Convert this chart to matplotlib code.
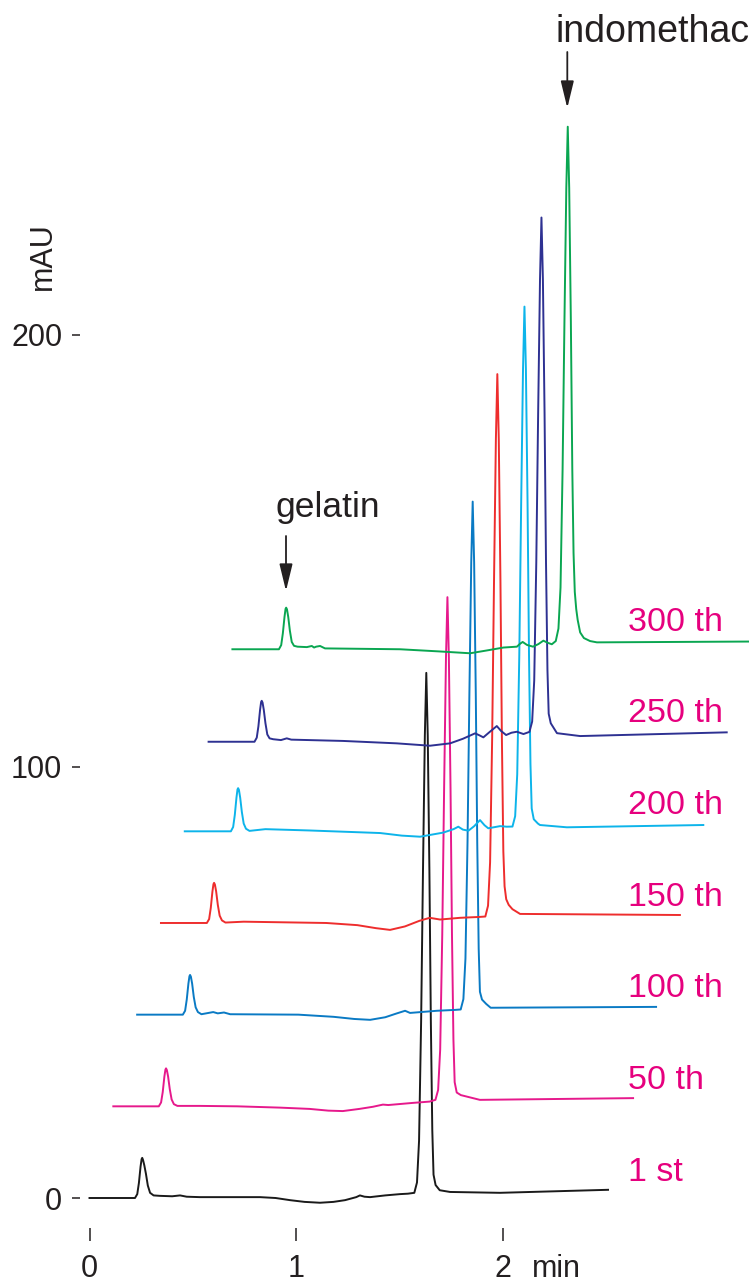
import matplotlib
matplotlib.use("Agg")
import numpy as np
import matplotlib.pyplot as plt

plt.rcParams['font.family'] = ['Liberation Sans', 'DejaVu Sans']

# ---------------- data (time in min, signal in mAU, per run) ----------------
run_labels = ['1 st', '50 th', '100 th', '150 th', '200 th', '250 th', '300 th']
run_colors = ['#1a1a1a', '#E6198C', '#0A7AC4', '#EE2D2D', '#0DB4EA', '#2E3192', '#0AA651']

t_1st = [0.000, 0.220, 0.231, 0.239, 0.247, 0.252, 0.255, 0.259, 0.265, 0.273, 0.282, 0.293,
         0.310, 0.340, 0.400, 0.438, 0.470, 0.534, 0.825, 0.900, 0.970, 1.040, 1.115, 1.180,
         1.236, 1.290, 1.308, 1.330, 1.357, 1.430, 1.502, 1.540,
         1.571, 1.584, 1.594, 1.604, 1.613, 1.622, 1.629, 1.636, 1.644, 1.651, 1.658, 1.664,
         1.674, 1.694, 1.744, 1.985, 2.508]
mau_1st = [0.0, 0.0, 0.9, 3.5, 7.3, 9.0, 9.3, 8.8, 7.6, 5.6, 2.9, 1.2,
           0.6, 0.5, 0.4, 0.6, 0.3, 0.2, 0.2, 0.0, -0.5, -0.9, -1.1, -0.9,
           -0.5, 0.2, 0.6, 0.3, 0.2, 0.6, 0.9, 1.0,
           1.2, 3.6, 13.3, 41.0, 75.9, 107.2, 121.7, 107.2, 75.9, 41.0, 15.7, 5.4,
           3.0, 1.8, 1.4, 1.2, 1.9]

t_50th = [0.000, 0.220, 0.231, 0.239, 0.247, 0.252, 0.255, 0.259, 0.265, 0.273, 0.282, 0.293,
          0.310, 0.419, 0.600, 0.806, 0.950, 1.040, 1.110, 1.190, 1.256, 1.304, 1.330, 1.450,
          1.530,
          1.558, 1.571, 1.581, 1.591, 1.600, 1.609, 1.616, 1.623, 1.631, 1.638, 1.645, 1.651,
          1.661, 1.681, 1.773, 2.514]
mau_50th = [0.0, 0.0, 0.9, 3.3, 6.9, 8.5, 8.8, 8.4, 6.9, 4.0, 1.6, 0.5,
            0.1, 0.1, 0.0, -0.3, -0.6, -1.0, -1.1, -0.6, -0.1, 0.4, 0.3, 0.8,
            1.1,
            1.5, 3.8, 13.2, 39.9, 73.7, 104.0, 118.0, 104.0, 73.7, 39.9, 15.5, 5.6,
            3.2, 2.6, 1.5, 1.9]

t_100th = [0.000, 0.221, 0.232, 0.240, 0.248, 0.253, 0.256, 0.260, 0.266, 0.274, 0.283, 0.294,
           0.311, 0.368, 0.390, 0.420, 0.450, 0.780, 0.950, 1.050, 1.127, 1.200, 1.250, 1.296,
           1.320, 1.450, 1.537,
           1.565, 1.578, 1.588, 1.598, 1.607, 1.616, 1.623, 1.630, 1.638, 1.645, 1.652, 1.658,
           1.668, 1.688, 1.710, 2.510]
mau_100th = [0.0, 0.0, 0.9, 3.5, 7.2, 8.9, 9.2, 8.8, 7.2, 4.1, 1.7, 0.6,
             0.1, 0.6, 0.3, 0.5, 0.1, 0.0, -0.5, -1.0, -1.2, -0.6, 0.2, 0.9,
             0.4, 0.9, 1.1,
             1.2, 3.6, 13.0, 40.0, 74.2, 104.8, 118.9, 104.8, 74.2, 40.0, 15.3, 5.3,
             3.5, 2.5, 1.6, 1.8]

t_150th = [0.000, 0.222, 0.233, 0.241, 0.249, 0.254, 0.257, 0.261, 0.267, 0.275, 0.284, 0.295,
           0.312, 0.400, 0.800, 0.950, 1.040, 1.108, 1.180, 1.250, 1.300, 1.350, 1.447, 1.540,
           1.569, 1.582, 1.592, 1.602, 1.611, 1.620, 1.627, 1.634, 1.642, 1.649, 1.656, 1.662,
           1.670, 1.682, 1.700, 1.737, 2.510]
mau_150th = [0.0, 0.0, 0.9, 3.5, 7.3, 9.0, 9.3, 8.9, 7.3, 4.2, 1.7, 0.6,
             0.1, 0.3, 0.0, -0.5, -1.2, -1.6, -0.8, 0.5, 1.2, 0.8, 1.2, 1.4,
             1.5, 4.0, 14.1, 43.0, 79.4, 112.1, 127.2, 112.1, 79.4, 43.0, 16.6, 8.5,
             5.5, 4.2, 3.2, 2.1, 1.85]

t_200th = [0.000, 0.223, 0.234, 0.242, 0.250, 0.255, 0.258, 0.262, 0.268, 0.276, 0.285, 0.296,
           0.313, 0.390, 0.600, 0.945, 1.050, 1.138, 1.250, 1.300, 1.323, 1.345, 1.372, 1.400,
           1.428, 1.450, 1.468, 1.525, 1.557,
           1.585, 1.598, 1.608, 1.618, 1.627, 1.636, 1.643, 1.650, 1.658, 1.665, 1.672, 1.678,
           1.688, 1.708, 1.718, 1.848, 2.508]
mau_200th = [0.0, 0.0, 1.0, 3.8, 7.8, 9.7, 10.0, 9.6, 7.8, 4.5, 1.8, 0.6,
             0.1, 0.5, 0.2, -0.4, -1.0, -1.25, -0.3, 0.5, 1.07, 0.4, 0.14, 1.2,
             2.6, 1.4, 0.7, 1.2, 1.07,
             1.1, 3.5, 13.2, 40.9, 75.8, 107.1, 121.6, 107.1, 75.8, 40.9, 15.6, 5.3,
             2.8, 1.8, 1.46, 0.93, 1.46]

t_250th = [0.000, 0.222, 0.233, 0.241, 0.249, 0.254, 0.257, 0.261, 0.267, 0.275, 0.284, 0.295,
           0.312, 0.350, 0.378, 0.400, 0.650, 0.910, 1.071, 1.168, 1.230, 1.289, 1.310, 1.329,
           1.360, 1.394, 1.415, 1.439, 1.465, 1.491, 1.523,
           1.552, 1.565, 1.575, 1.585, 1.594, 1.603, 1.610, 1.617, 1.625, 1.632, 1.639, 1.645,
           1.655, 1.685, 1.797, 2.506]
mau_250th = [-0.49, -0.49, 0.46, 3.1, 6.9, 8.7, 9.0, 8.6, 6.9, 3.8, 1.2, 0.3,
             0.1, -0.1, 0.3, 0.0, -0.3, -0.86, -1.41, -0.86, 0.2, 1.46, 1.0, 0.53,
             1.8, 3.15, 2.0, 1.07, 1.6, 1.83, 1.30,
             1.8, 4.2, 13.7, 41.1, 75.7, 106.7, 121.0, 106.7, 75.7, 41.1, 16.1, 6.0,
             3.8, 1.5, 0.83, 1.69]

t_300th = [0.000, 0.225, 0.236, 0.244, 0.252, 0.257, 0.260, 0.264, 0.270, 0.278, 0.287, 0.298,
           0.315, 0.360, 0.384, 0.395, 0.405, 0.424, 0.448, 0.811, 1.000, 1.150, 1.240, 1.311,
           1.376, 1.392, 1.404, 1.425, 1.454, 1.480, 1.504, 1.525, 1.545,
           1.564, 1.577, 1.587, 1.597, 1.606, 1.615, 1.622, 1.629, 1.637, 1.644, 1.650, 1.656,
           1.663, 1.670, 1.682, 1.700, 1.730, 1.763, 2.550]
mau_300th = [-0.3, -0.3, 0.66, 3.4, 7.2, 9.05, 9.34, 8.95, 7.2, 4.0, 1.4, 0.5,
             0.3, 0.2, 0.46, 0.1, 0.3, 0.46, -0.1, -0.3, -0.8, -1.23, -0.5, 0.1,
             0.3, 1.0, 1.39, 0.7, 0.3, 0.9, 1.69, 1.2, 0.86,
             1.6, 4.5, 14.0, 41.3, 75.7, 106.6, 120.8, 106.6, 75.7, 41.3, 22.0, 13.0,
             9.0, 6.5, 3.6, 2.3, 1.6, 1.3, 1.5]

run_times = [t_1st, t_50th, t_100th, t_150th, t_200th, t_250th, t_300th]
run_signals = [mau_1st, mau_50th, mau_100th, mau_150th, mau_200th, mau_250th, mau_300th]

x_ticks = [0, 1, 2]
y_ticks = [0, 100, 200]

# ---------------- layout ----------------
W, H = 749, 1283
fig = plt.figure(figsize=(W / 100, H / 100), dpi=100)

x0_px, px_per_min = 89.5, 206.75      # pixel of t=0, pixels per minute
y0_px, px_per_mau = 1198.0, 4.315     # pixel row of 0 mAU, pixels per mAU
ax_l, ax_r, ax_t, ax_b = 80, W, 0, 1228
ax = fig.add_axes([ax_l / W, 1 - ax_b / H, (ax_r - ax_l) / W, (ax_b - ax_t) / H])
ax.set_xlim((ax_l - x0_px) / px_per_min, (ax_r - x0_px) / px_per_min)
ax.set_ylim((y0_px - ax_b) / px_per_mau, (y0_px - ax_t) / px_per_mau)

DX, DY = 0.1152, 21.245   # stacking offsets (min, mAU)

for k, (t, s) in enumerate(zip(run_times, run_signals)):
    ax.plot(np.asarray(t) + k * DX, np.asarray(s) + k * DY,
            color=run_colors[k], lw=1.4, solid_joinstyle='round')
    ax.text((628 - x0_px) / px_per_min, 4.0 + k * DY, run_labels[k],
            color='#E6007E', fontsize=24.5, ha='left', va='baseline')

for sp in ax.spines.values():
    sp.set_visible(False)
ax.set_xticks(x_ticks)
ax.set_xticklabels([str(v) for v in x_ticks])
ax.set_yticks(y_ticks)
ax.set_yticklabels([str(v) for v in y_ticks])
ax.tick_params(axis='y', direction='out', length=5.8, width=1.1, pad=7,
               labelsize=22, colors='#231f20')
ax.tick_params(axis='x', direction='out', length=9.4, width=1.1, pad=9.5,
               labelsize=22, colors='#231f20')

txt = '#231f20'
ax.annotate('min', xy=(532, H - 1277), xycoords='figure pixels', fontsize=22,
            ha='left', va='baseline', color=txt)
ax.annotate('mAU', xy=(43, H - 256), xycoords='figure pixels', fontsize=22,
            ha='center', va='center', rotation=90, color=txt)
ax.annotate('gelatin', xy=(328, H - 517), xycoords='figure pixels', fontsize=25.5,
            ha='center', va='baseline', color=txt)
ax.annotate('indomethacin', xy=(556, H - 42), xycoords='figure pixels', fontsize=27,
            ha='left', va='baseline', color=txt, annotation_clip=False)

arrow_style = dict(arrowstyle='-|>,head_length=1.65,head_width=0.4', color=txt,
                   lw=1.3, mutation_scale=10, shrinkA=0, shrinkB=0)
ax.annotate('', xy=(286, H - 591), xytext=(286, H - 536), xycoords='figure pixels',
            textcoords='figure pixels', arrowprops=arrow_style)
ax.annotate('', xy=(567.3, H - 108), xytext=(567.3, H - 52), xycoords='figure pixels',
            textcoords='figure pixels', arrowprops=arrow_style)

fig.savefig('out.png', dpi=100)
